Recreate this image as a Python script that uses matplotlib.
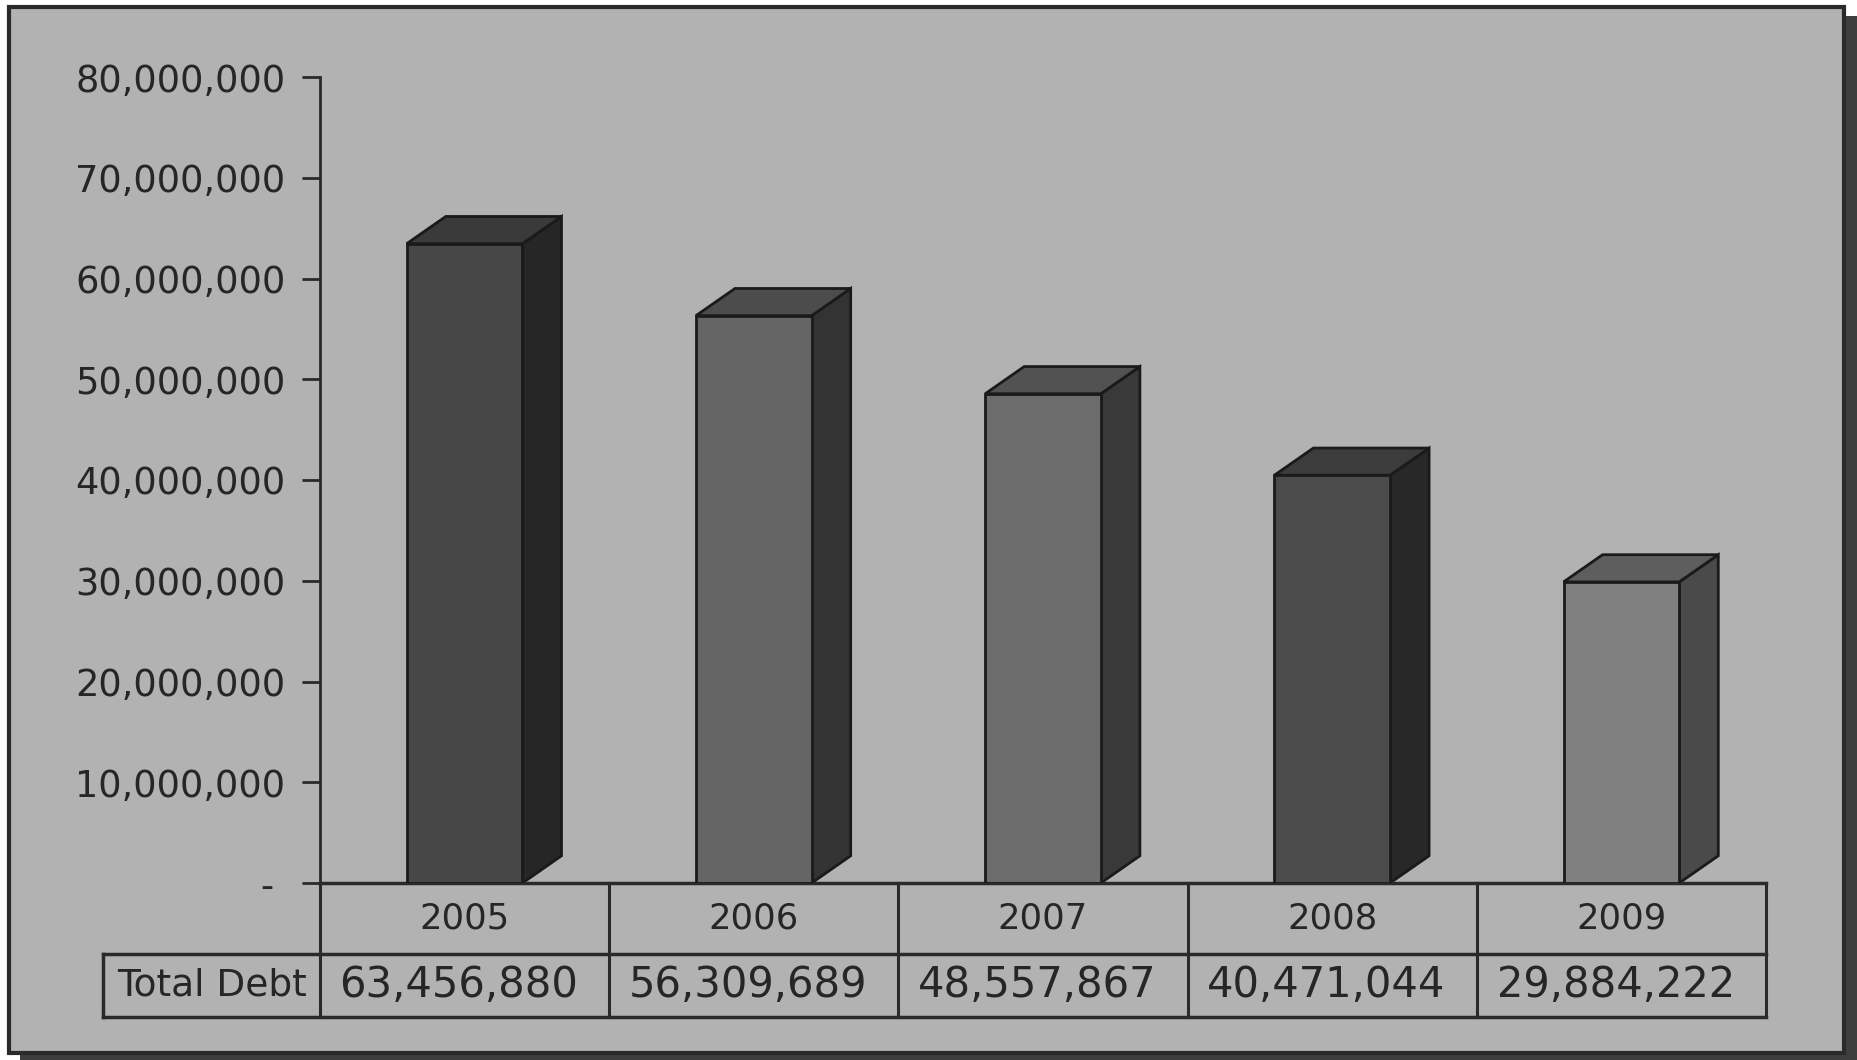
import numpy as np
import matplotlib
matplotlib.use("Agg")
import matplotlib.pyplot as plt
from matplotlib.patches import Polygon, Rectangle
from matplotlib.ticker import FuncFormatter

# data
years = ["2005", "2006", "2007", "2008", "2009"]
total_debt = [63456880, 56309689, 48557867, 40471044, 29884222]
row_label = "Total Debt"
yticks = [0, 10000000, 20000000, 30000000, 40000000,
          50000000, 60000000, 70000000, 80000000]

# per-bar shades (front, side, top)
front_cols = ["#474747", "#656565", "#6c6c6c", "#4c4c4c", "#808080"]
side_cols = ["#262626", "#333333", "#393939", "#282828", "#4a4a4a"]
top_cols = ["#3a3a3a", "#4c4c4c", "#525252", "#3c3c3c", "#5e5e5e"]

W, H = 1858, 1060
fig = plt.figure(figsize=(W / 100, H / 100), dpi=100)
fig.patch.set_facecolor("white")

# frame + drop shadow
fig.patches.append(Rectangle((20 / W, 0), 1838 / W, 1 - 16 / H,
                             transform=fig.transFigure, facecolor="#3e3e3e",
                             edgecolor="none", zorder=-20))
fig.patches.append(Rectangle((9 / W, 7 / H), 1835 / W, 1 - 14 / H,
                             transform=fig.transFigure, facecolor="#b2b2b2",
                             edgecolor="#2a2a2a", lw=3, zorder=-10))

ax_l, ax_r = 320 / W, 1766 / W
ax_b, ax_t = 1 - 883 / H, 1 - 77 / H
ax = fig.add_axes([ax_l, ax_b, ax_r - ax_l, ax_t - ax_b])
ax.set_zorder(5)
ax.set_facecolor("none")
ax.set_xlim(-0.5, len(years) - 0.5)
ax.set_ylim(0, 80000000)

bw = 0.4
dx = 0.135
dy = 2.7e6
ec = "#1a1a1a"
for i, v in enumerate(total_debt):
    x0 = i - bw / 2
    x1 = i + bw / 2
    ax.add_patch(Polygon([(x1, 0), (x1 + dx, dy), (x1 + dx, v + dy), (x1, v)],
                         closed=True, facecolor=side_cols[i], edgecolor=ec,
                         lw=2, zorder=2))
    ax.add_patch(Polygon([(x0, v), (x1, v), (x1 + dx, v + dy), (x0 + dx, v + dy)],
                         closed=True, facecolor=top_cols[i], edgecolor=ec,
                         lw=2, zorder=2))
ax.bar(range(len(years)), total_debt, width=bw, color=front_cols,
       edgecolor=ec, lw=2, zorder=3)

ax.set_yticks(yticks)
ax.yaxis.set_major_formatter(FuncFormatter(
    lambda v, p: "- " if v == 0 else "{:,.0f}".format(v)))
ax.tick_params(axis="y", length=13, width=2, color="#2a2a2a", pad=12,
               labelsize=26.5, labelcolor="#262626")
ax.set_xticks([])
for s in ["top", "right"]:
    ax.spines[s].set_visible(False)
ax.spines["left"].set_linewidth(2)
ax.spines["left"].set_color("#2a2a2a")
ax.spines["bottom"].set_linewidth(2.5)
ax.spines["bottom"].set_color("#2a2a2a")

# data table under the axis
tr = ax.get_xaxis_transform()
r1 = -71 / 806
r2 = -134 / 806
lab_x = -1.25
lc = "#2a2a2a"
for k in range(len(years) + 1):
    ax.plot([k - 0.5, k - 0.5], [0, r2], transform=tr, color=lc, lw=2.2,
            clip_on=False)
ax.plot([lab_x, len(years) - 0.5], [r1, r1], transform=tr, color=lc, lw=2.5,
        clip_on=False)
ax.plot([lab_x, len(years) - 0.5], [r2, r2], transform=tr, color=lc, lw=2.5,
        clip_on=False)
ax.plot([lab_x, lab_x], [r1, r2], transform=tr, color=lc, lw=2.5,
        clip_on=False)

for i, (yr, v) in enumerate(zip(years, total_debt)):
    ax.text(i, r1 / 2, yr, transform=tr, ha="center", va="center",
            fontsize=25.5, color="#262626")
    ax.text(i - 0.02, (r1 + r2) / 2, "{:,}".format(v), transform=tr,
            ha="center", va="center", fontsize=30, color="#262626")
ax.text((lab_x - 0.5) / 2, (r1 + r2) / 2, row_label, transform=tr,
        ha="center", va="center", fontsize=27, color="#262626")

fig.savefig("out.png", dpi=100)
